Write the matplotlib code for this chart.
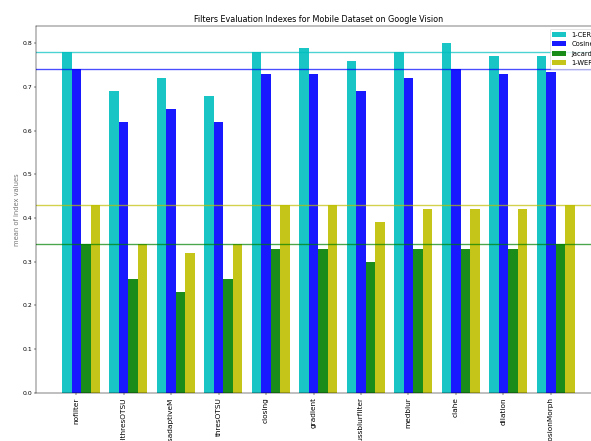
import numpy as np
import matplotlib
matplotlib.use("Agg")
import matplotlib.pyplot as plt

filters = ["nofilter", "levelthresOTSU", "thresadaptiveM", "thresOTSU", "closing",
           "gradient", "gaussblurfilter", "medblur", "clahe", "dilation", "erosionMorph"]
cer = [0.78, 0.69, 0.72, 0.68, 0.78, 0.79, 0.76, 0.78, 0.80, 0.77, 0.77]
cosine = [0.74, 0.62, 0.65, 0.62, 0.73, 0.73, 0.69, 0.72, 0.74, 0.73, 0.735]
jacard = [0.34, 0.26, 0.23, 0.26, 0.33, 0.33, 0.30, 0.33, 0.33, 0.33, 0.34]
wer = [0.43, 0.34, 0.32, 0.34, 0.43, 0.43, 0.39, 0.42, 0.42, 0.42, 0.43]
series_names = ["1-CER", "Cosine", "Jacard", "1-WER"]
series = [cer, cosine, jacard, wer]
colors = ["c", "b", "g", "y"]

DPI = 44.5
fig = plt.figure(figsize=(591 / DPI, 441 / DPI), dpi=DPI)
ax = fig.add_axes([0.0616, 0.1093, 0.954, 0.8324])

ind = np.arange(len(filters))
w = 0.2
for k, (vals, col, name) in enumerate(zip(series, colors, series_names)):
    ax.bar(ind + k * w, vals, w, color=col, alpha=0.9, label=name)

for vals, col in zip(series, colors):
    ax.axhline(vals[0], color=col, alpha=0.7, lw=2.2)

ax.set_xticks(ind + w)
ax.set_xticklabels(filters, rotation=90, fontsize=12)
ax.tick_params(axis="y", labelsize=10)
ax.set_title("Filters Evaluation Indexes for Mobile Dataset on Google Vision", fontsize=13)
ax.set_ylabel("mean of index values", fontsize=11, color="#777777")
ax.legend(loc="upper right", fontsize=11)

fig.savefig("out.png", dpi=DPI)
